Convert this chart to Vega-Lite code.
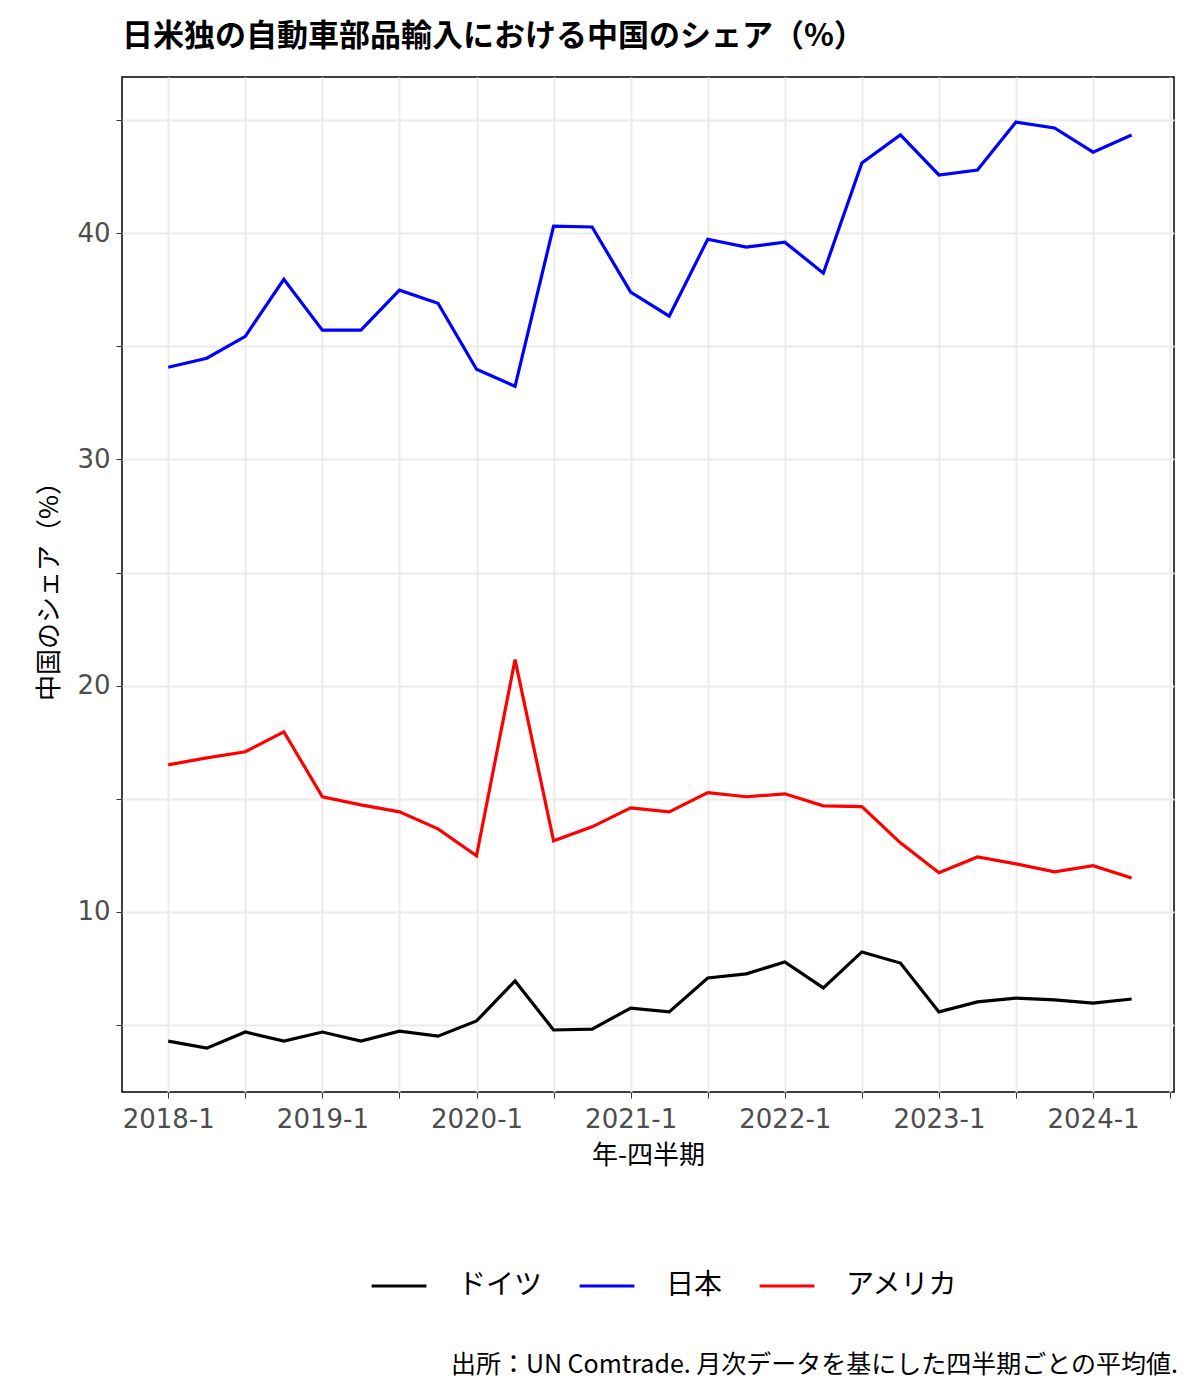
{
  "$schema": "https://vega.github.io/schema/vega-lite/v6.json",
  "width": 1052,
  "height": 1015,
  "autosize": {"type": "none"},
  "padding": {"left": 122, "top": 77, "right": 26, "bottom": 307},
  "background": "white",
  "config": {
    "font": "Noto Sans CJK JP",
    "view": {"stroke": "#000000", "strokeWidth": 1.5}
  },
  "title": {
    "text": "日米独の自動車部品輸入における中国のシェア（%）",
    "anchor": "start",
    "frame": "group",
    "fontSize": 31,
    "fontWeight": "bold",
    "color": "#000000",
    "offset": 24
  },
  "datasets": {
    "share": [
      {"q": 0, "country": "日本", "share": 34.07}, {"q": 1, "country": "日本", "share": 34.47},
      {"q": 2, "country": "日本", "share": 35.44}, {"q": 3, "country": "日本", "share": 37.96},
      {"q": 4, "country": "日本", "share": 35.71}, {"q": 5, "country": "日本", "share": 35.71},
      {"q": 6, "country": "日本", "share": 37.48}, {"q": 7, "country": "日本", "share": 36.9},
      {"q": 8, "country": "日本", "share": 33.98}, {"q": 9, "country": "日本", "share": 33.23},
      {"q": 10, "country": "日本", "share": 40.31}, {"q": 11, "country": "日本", "share": 40.27},
      {"q": 12, "country": "日本", "share": 37.39}, {"q": 13, "country": "日本", "share": 36.33},
      {"q": 14, "country": "日本", "share": 39.73}, {"q": 15, "country": "日本", "share": 39.38},
      {"q": 16, "country": "日本", "share": 39.6}, {"q": 17, "country": "日本", "share": 38.23},
      {"q": 18, "country": "日本", "share": 43.1}, {"q": 19, "country": "日本", "share": 44.34},
      {"q": 20, "country": "日本", "share": 42.57}, {"q": 21, "country": "日本", "share": 42.79},
      {"q": 22, "country": "日本", "share": 44.91}, {"q": 23, "country": "日本", "share": 44.65},
      {"q": 24, "country": "日本", "share": 43.58}, {"q": 25, "country": "日本", "share": 44.34},
      {"q": 0, "country": "アメリカ", "share": 16.5}, {"q": 1, "country": "アメリカ", "share": 16.81},
      {"q": 2, "country": "アメリカ", "share": 17.08}, {"q": 3, "country": "アメリカ", "share": 17.96},
      {"q": 4, "country": "アメリカ", "share": 15.09}, {"q": 5, "country": "アメリカ", "share": 14.73},
      {"q": 6, "country": "アメリカ", "share": 14.42}, {"q": 7, "country": "アメリカ", "share": 13.67},
      {"q": 8, "country": "アメリカ", "share": 12.48}, {"q": 9, "country": "アメリカ", "share": 21.15},
      {"q": 10, "country": "アメリカ", "share": 13.14}, {"q": 11, "country": "アメリカ", "share": 13.76},
      {"q": 12, "country": "アメリカ", "share": 14.6}, {"q": 13, "country": "アメリカ", "share": 14.42},
      {"q": 14, "country": "アメリカ", "share": 15.27}, {"q": 15, "country": "アメリカ", "share": 15.09},
      {"q": 16, "country": "アメリカ", "share": 15.22}, {"q": 17, "country": "アメリカ", "share": 14.69},
      {"q": 18, "country": "アメリカ", "share": 14.65}, {"q": 19, "country": "アメリカ", "share": 13.05},
      {"q": 20, "country": "アメリカ", "share": 11.73}, {"q": 21, "country": "アメリカ", "share": 12.43},
      {"q": 22, "country": "アメリカ", "share": 12.12}, {"q": 23, "country": "アメリカ", "share": 11.77},
      {"q": 24, "country": "アメリカ", "share": 12.04}, {"q": 25, "country": "アメリカ", "share": 11.5},
      {"q": 0, "country": "ドイツ", "share": 4.29}, {"q": 1, "country": "ドイツ", "share": 3.98},
      {"q": 2, "country": "ドイツ", "share": 4.69}, {"q": 3, "country": "ドイツ", "share": 4.29},
      {"q": 4, "country": "ドイツ", "share": 4.69}, {"q": 5, "country": "ドイツ", "share": 4.29},
      {"q": 6, "country": "ドイツ", "share": 4.73}, {"q": 7, "country": "ドイツ", "share": 4.51},
      {"q": 8, "country": "ドイツ", "share": 5.18}, {"q": 9, "country": "ドイツ", "share": 6.95},
      {"q": 10, "country": "ドイツ", "share": 4.78}, {"q": 11, "country": "ドイツ", "share": 4.82},
      {"q": 12, "country": "ドイツ", "share": 5.75}, {"q": 13, "country": "ドイツ", "share": 5.58},
      {"q": 14, "country": "ドイツ", "share": 7.08}, {"q": 15, "country": "ドイツ", "share": 7.26},
      {"q": 16, "country": "ドイツ", "share": 7.79}, {"q": 17, "country": "ドイツ", "share": 6.64},
      {"q": 18, "country": "ドイツ", "share": 8.23}, {"q": 19, "country": "ドイツ", "share": 7.74},
      {"q": 20, "country": "ドイツ", "share": 5.58}, {"q": 21, "country": "ドイツ", "share": 6.02},
      {"q": 22, "country": "ドイツ", "share": 6.19}, {"q": 23, "country": "ドイツ", "share": 6.11},
      {"q": 24, "country": "ドイツ", "share": 5.97}, {"q": 25, "country": "ドイツ", "share": 6.15}
    ],
    "caption": [{"text": "出所：UN Comtrade. 月次データを基にした四半期ごとの平均値."}]
  },
  "layer": [
    {
      "data": {"name": "share"},
      "mark": {"type": "line", "strokeWidth": 3.2},
      "encoding": {
        "x": {
          "field": "q", "type": "quantitative",
          "scale": {"domain": [-1.2, 26.1], "nice": false, "zero": false},
          "axis": {
            "title": "年-四半期", "titleFontSize": 26, "titleFontWeight": "normal", "titleColor": "#000000", "titlePadding": 10,
            "values": [0, 2, 4, 6, 8, 10, 12, 14, 16, 18, 20, 22, 24, 26],
            "labelExpr": "datum.value % 4 == 0 ? (2018 + datum.value / 4) + '-1' : ''",
            "labelFontSize": 26, "labelColor": "#4d4d4d", "labelFont": "DejaVu Sans",
            "grid": true, "gridColor": "#ebebeb", "gridWidth": 2,
            "domain": false, "tickColor": "#333333", "tickSize": 6, "labelPadding": 8
          }
        },
        "y": {
          "field": "share", "type": "quantitative",
          "scale": {"domain": [2.04, 46.9], "nice": false, "zero": false},
          "axis": {
            "title": "中国のシェア（%）", "titleFontSize": 26, "titleFontWeight": "normal", "titleColor": "#000000", "titlePadding": 14,
            "values": [5, 10, 15, 20, 25, 30, 35, 40, 45],
            "labelExpr": "datum.value % 10 == 0 ? datum.label : ''",
            "labelFontSize": 26, "labelColor": "#4d4d4d", "labelFont": "DejaVu Sans",
            "grid": true, "gridColor": "#ebebeb", "gridWidth": 2,
            "domain": false, "tickColor": "#333333", "tickSize": 6, "labelPadding": 6
          }
        },
        "color": {
          "field": "country", "type": "nominal",
          "sort": ["ドイツ", "日本", "アメリカ"],
          "scale": {"domain": ["ドイツ", "日本", "アメリカ"], "range": ["#000000", "#0000ff", "#ff0000"]},
          "legend": {
            "title": null, "orient": "none", "direction": "horizontal",
            "legendX": 248, "legendY": 1180,
            "symbolType": "stroke", "symbolStrokeWidth": 3.2, "symbolSize": 3000,
            "labelFontSize": 28, "labelColor": "#000000", "columnPadding": 30, "labelOffset": 30
          }
        }
      }
    },
    {
      "data": {"name": "caption"},
      "mark": {"type": "text", "align": "right", "baseline": "middle", "fontSize": 25, "color": "#000000"},
      "encoding": {
        "text": {"field": "text"},
        "x": {"value": 1056},
        "y": {"value": 1288}
      }
    }
  ]
}
